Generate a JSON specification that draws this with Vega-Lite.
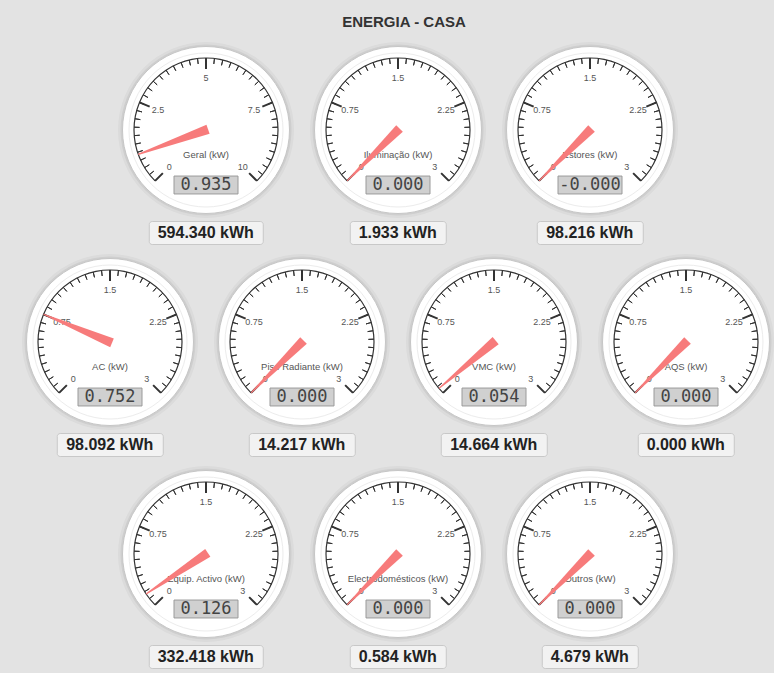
{
"$schema": "https://vega.github.io/schema/vega-lite/v6.json",
"background": "#e3e3e3",
"padding": {"left": 22, "top": 15, "right": 0, "bottom": 4},
"title": {"text": "ENERGIA - CASA", "fontSize": 15, "font": "Liberation Sans", "fontWeight": "bold", "color": "#333333", "anchor": "middle", "offset": 10, "dx": 6},
"config": {"view": {"stroke": null}},
"datasets": {
"gauges": [
{"id": "geral", "label": "Geral (kW)", "max": 10, "value": 0.935, "valueText": "0.935", "kwh": "594.340 kWh"},
{"id": "ilum", "label": "Iluminação (kW)", "max": 3, "value": 0, "valueText": "0.000", "kwh": "1.933 kWh"},
{"id": "estores", "label": "Estores (kW)", "max": 3, "value": 0, "valueText": "-0.000", "kwh": "98.216 kWh"},
{"id": "ac", "label": "AC (kW)", "max": 3, "value": 0.752, "valueText": "0.752", "kwh": "98.092 kWh"},
{"id": "piso", "label": "Piso Radiante (kW)", "max": 3, "value": 0, "valueText": "0.000", "kwh": "14.217 kWh"},
{"id": "vmc", "label": "VMC (kW)", "max": 3, "value": 0.054, "valueText": "0.054", "kwh": "14.664 kWh"},
{"id": "aqs", "label": "AQS (kW)", "max": 3, "value": 0, "valueText": "0.000", "kwh": "0.000 kWh"},
{"id": "equip", "label": "Equip. Activo (kW)", "max": 3, "value": 0.126, "valueText": "0.126", "kwh": "332.418 kWh"},
{"id": "electro", "label": "Electrodomésticos (kW)", "max": 3, "value": 0, "valueText": "0.000", "kwh": "0.584 kWh"},
{"id": "outros", "label": "Outros (kW)", "max": 3, "value": 0, "valueText": "0.000", "kwh": "4.679 kWh"}
],
"ticks": [{"f":0},{"f":0.025},{"f":0.05},{"f":0.075},{"f":0.1},{"f":0.125},{"f":0.15},{"f":0.175},{"f":0.2},{"f":0.225},{"f":0.25},{"f":0.275},{"f":0.3},{"f":0.325},{"f":0.35},{"f":0.375},{"f":0.4},{"f":0.425},{"f":0.45},{"f":0.475},{"f":0.5},{"f":0.525},{"f":0.55},{"f":0.575},{"f":0.6},{"f":0.625},{"f":0.65},{"f":0.675},{"f":0.7},{"f":0.725},{"f":0.75},{"f":0.775},{"f":0.8},{"f":0.825},{"f":0.85},{"f":0.875},{"f":0.9},{"f":0.925},{"f":0.95},{"f":0.975},{"f":1}],
"majors": [{"f":0,"l3":"0","l10":"0"},{"f":0.25,"l3":"0.75","l10":"2.5"},{"f":0.5,"l3":"1.5","l10":"5"},{"f":0.75,"l3":"2.25","l10":"7.5"},{"f":1,"l3":"3","l10":"10"}]
},
"spacing": 7,
"center": true,
"resolve": {"scale": {"angle": "independent", "theta": "independent"}},
"vconcat": [
{"spacing": 16, "resolve": {"scale": {"angle": "independent", "theta": "independent"}}, "hconcat": [
{"data": {"name": "gauges"}, "transform": [{"filter": "datum.id == 'geral'"}], "spacing": 0, "center": true, "vconcat": [
{"width": 176, "height": 180, "layer": [
{"mark": {"type": "arc", "theta": 0, "theta2": 6.2832, "radius": 88, "fill": "#000000", "opacity": 0.035}, "encoding": {}},
{"mark": {"type": "arc", "theta": 0, "theta2": 6.2832, "radius": 85.5, "fill": "#000000", "opacity": 0.06}, "encoding": {}},
{"mark": {"type": "arc", "theta": 0, "theta2": 6.2832, "radius": 83.5, "fill": "#ffffff", "stroke": "#c6c6c6", "strokeWidth": 1}, "encoding": {}},
{"mark": {"type": "arc", "theta": 0, "theta2": 6.2832, "radius": 77, "fill": "#ffffff", "stroke": "#ececec", "strokeWidth": 1}, "encoding": {}},
{"mark": {"type": "arc", "theta": -2.3562, "theta2": 2.3562, "radius": 72.6, "radius2": 71.4, "fill": "#333333"}, "encoding": {}},
{"data": {"name": "ticks"}, "mark": {"type": "arc", "radius": 72, "radius2": 66.5, "filled": false, "stroke": "#333333", "strokeWidth": 1}, "encoding": {"theta": {"field": "f", "type": "quantitative", "stack": null, "scale": {"domain": [0, 1], "range": [-2.3562, 2.3562]}}, "theta2": {"field": "f"}}},
{"data": {"name": "majors"}, "mark": {"type": "arc", "radius": 72, "radius2": 61, "filled": false, "stroke": "#333333", "strokeWidth": 2}, "encoding": {"theta": {"field": "f", "type": "quantitative", "stack": null, "scale": {"domain": [0, 1], "range": [-2.3562, 2.3562]}}, "theta2": {"field": "f"}}},
{"data": {"name": "majors"}, "mark": {"type": "text", "radius": 52, "fontSize": 9, "font": "Liberation Sans", "color": "#555555"}, "encoding": {"theta": {"field": "f", "type": "quantitative", "stack": null, "scale": {"domain": [0, 1], "range": [-2.3562, 2.3562]}}, "text": {"field": "l10"}}},
{"mark": {"type": "text", "dy": 25, "fontSize": 9.5, "font": "Liberation Sans", "color": "#555555"}, "encoding": {"text": {"field": "label"}}},
{"mark": {"type": "point", "shape": "M-1,-0.28H1V0.28H-1Z", "size": 4096, "yOffset": 55, "filled": true, "fill": "#d0d0d0", "stroke": "#9a9a9a", "strokeWidth": 1, "opacity": 1}, "encoding": {}},
{"mark": {"type": "text", "dy": 55, "fontSize": 17, "font": "DejaVu Sans Mono", "color": "#444444"}, "encoding": {"text": {"field": "valueText"}}},
{"mark": {"type": "point", "shape": "M-0.065,0.03L-0.008,-1L0.008,-1L0.065,0.03Z", "size": 20736, "filled": true, "fill": "#f77b7b", "strokeWidth": 0, "opacity": 1}, "encoding": {"angle": {"field": "value", "type": "quantitative", "legend": null, "scale": {"domain": [0, 10], "range": [-135, 135]}}}}
]},
{"width": 114, "height": 23, "view": {"fill": "#f2f2f2", "stroke": "#c8c8c8", "cornerRadius": 3}, "mark": {"type": "text", "fontSize": 16, "fontWeight": "bold", "font": "Liberation Sans", "color": "#222222"}, "encoding": {"text": {"field": "kwh"}}}
]},
{"data": {"name": "gauges"}, "transform": [{"filter": "datum.id == 'ilum'"}], "spacing": 0, "center": true, "vconcat": [
{"width": 176, "height": 180, "layer": [
{"mark": {"type": "arc", "theta": 0, "theta2": 6.2832, "radius": 88, "fill": "#000000", "opacity": 0.035}, "encoding": {}},
{"mark": {"type": "arc", "theta": 0, "theta2": 6.2832, "radius": 85.5, "fill": "#000000", "opacity": 0.06}, "encoding": {}},
{"mark": {"type": "arc", "theta": 0, "theta2": 6.2832, "radius": 83.5, "fill": "#ffffff", "stroke": "#c6c6c6", "strokeWidth": 1}, "encoding": {}},
{"mark": {"type": "arc", "theta": 0, "theta2": 6.2832, "radius": 77, "fill": "#ffffff", "stroke": "#ececec", "strokeWidth": 1}, "encoding": {}},
{"mark": {"type": "arc", "theta": -2.3562, "theta2": 2.3562, "radius": 72.6, "radius2": 71.4, "fill": "#333333"}, "encoding": {}},
{"data": {"name": "ticks"}, "mark": {"type": "arc", "radius": 72, "radius2": 66.5, "filled": false, "stroke": "#333333", "strokeWidth": 1}, "encoding": {"theta": {"field": "f", "type": "quantitative", "stack": null, "scale": {"domain": [0, 1], "range": [-2.3562, 2.3562]}}, "theta2": {"field": "f"}}},
{"data": {"name": "majors"}, "mark": {"type": "arc", "radius": 72, "radius2": 61, "filled": false, "stroke": "#333333", "strokeWidth": 2}, "encoding": {"theta": {"field": "f", "type": "quantitative", "stack": null, "scale": {"domain": [0, 1], "range": [-2.3562, 2.3562]}}, "theta2": {"field": "f"}}},
{"data": {"name": "majors"}, "mark": {"type": "text", "radius": 52, "fontSize": 9, "font": "Liberation Sans", "color": "#555555"}, "encoding": {"theta": {"field": "f", "type": "quantitative", "stack": null, "scale": {"domain": [0, 1], "range": [-2.3562, 2.3562]}}, "text": {"field": "l3"}}},
{"mark": {"type": "text", "dy": 25, "fontSize": 9.5, "font": "Liberation Sans", "color": "#555555"}, "encoding": {"text": {"field": "label"}}},
{"mark": {"type": "point", "shape": "M-1,-0.28H1V0.28H-1Z", "size": 4096, "yOffset": 55, "filled": true, "fill": "#d0d0d0", "stroke": "#9a9a9a", "strokeWidth": 1, "opacity": 1}, "encoding": {}},
{"mark": {"type": "text", "dy": 55, "fontSize": 17, "font": "DejaVu Sans Mono", "color": "#444444"}, "encoding": {"text": {"field": "valueText"}}},
{"mark": {"type": "point", "shape": "M-0.065,0.03L-0.008,-1L0.008,-1L0.065,0.03Z", "size": 20736, "filled": true, "fill": "#f77b7b", "strokeWidth": 0, "opacity": 1}, "encoding": {"angle": {"field": "value", "type": "quantitative", "legend": null, "scale": {"domain": [0, 3], "range": [-135, 135]}}}}
]},
{"width": 96, "height": 23, "view": {"fill": "#f2f2f2", "stroke": "#c8c8c8", "cornerRadius": 3}, "mark": {"type": "text", "fontSize": 16, "fontWeight": "bold", "font": "Liberation Sans", "color": "#222222"}, "encoding": {"text": {"field": "kwh"}}}
]},
{"data": {"name": "gauges"}, "transform": [{"filter": "datum.id == 'estores'"}], "spacing": 0, "center": true, "vconcat": [
{"width": 176, "height": 180, "layer": [
{"mark": {"type": "arc", "theta": 0, "theta2": 6.2832, "radius": 88, "fill": "#000000", "opacity": 0.035}, "encoding": {}},
{"mark": {"type": "arc", "theta": 0, "theta2": 6.2832, "radius": 85.5, "fill": "#000000", "opacity": 0.06}, "encoding": {}},
{"mark": {"type": "arc", "theta": 0, "theta2": 6.2832, "radius": 83.5, "fill": "#ffffff", "stroke": "#c6c6c6", "strokeWidth": 1}, "encoding": {}},
{"mark": {"type": "arc", "theta": 0, "theta2": 6.2832, "radius": 77, "fill": "#ffffff", "stroke": "#ececec", "strokeWidth": 1}, "encoding": {}},
{"mark": {"type": "arc", "theta": -2.3562, "theta2": 2.3562, "radius": 72.6, "radius2": 71.4, "fill": "#333333"}, "encoding": {}},
{"data": {"name": "ticks"}, "mark": {"type": "arc", "radius": 72, "radius2": 66.5, "filled": false, "stroke": "#333333", "strokeWidth": 1}, "encoding": {"theta": {"field": "f", "type": "quantitative", "stack": null, "scale": {"domain": [0, 1], "range": [-2.3562, 2.3562]}}, "theta2": {"field": "f"}}},
{"data": {"name": "majors"}, "mark": {"type": "arc", "radius": 72, "radius2": 61, "filled": false, "stroke": "#333333", "strokeWidth": 2}, "encoding": {"theta": {"field": "f", "type": "quantitative", "stack": null, "scale": {"domain": [0, 1], "range": [-2.3562, 2.3562]}}, "theta2": {"field": "f"}}},
{"data": {"name": "majors"}, "mark": {"type": "text", "radius": 52, "fontSize": 9, "font": "Liberation Sans", "color": "#555555"}, "encoding": {"theta": {"field": "f", "type": "quantitative", "stack": null, "scale": {"domain": [0, 1], "range": [-2.3562, 2.3562]}}, "text": {"field": "l3"}}},
{"mark": {"type": "text", "dy": 25, "fontSize": 9.5, "font": "Liberation Sans", "color": "#555555"}, "encoding": {"text": {"field": "label"}}},
{"mark": {"type": "point", "shape": "M-1,-0.28H1V0.28H-1Z", "size": 4096, "yOffset": 55, "filled": true, "fill": "#d0d0d0", "stroke": "#9a9a9a", "strokeWidth": 1, "opacity": 1}, "encoding": {}},
{"mark": {"type": "text", "dy": 55, "fontSize": 17, "font": "DejaVu Sans Mono", "color": "#444444"}, "encoding": {"text": {"field": "valueText"}}},
{"mark": {"type": "point", "shape": "M-0.065,0.03L-0.008,-1L0.008,-1L0.065,0.03Z", "size": 20736, "filled": true, "fill": "#f77b7b", "strokeWidth": 0, "opacity": 1}, "encoding": {"angle": {"field": "value", "type": "quantitative", "legend": null, "scale": {"domain": [0, 3], "range": [-135, 135]}}}}
]},
{"width": 106, "height": 23, "view": {"fill": "#f2f2f2", "stroke": "#c8c8c8", "cornerRadius": 3}, "mark": {"type": "text", "fontSize": 16, "fontWeight": "bold", "font": "Liberation Sans", "color": "#222222"}, "encoding": {"text": {"field": "kwh"}}}
]}
]},
{"spacing": 16, "resolve": {"scale": {"angle": "independent", "theta": "independent"}}, "hconcat": [
{"data": {"name": "gauges"}, "transform": [{"filter": "datum.id == 'ac'"}], "spacing": 0, "center": true, "vconcat": [
{"width": 176, "height": 180, "layer": [
{"mark": {"type": "arc", "theta": 0, "theta2": 6.2832, "radius": 88, "fill": "#000000", "opacity": 0.035}, "encoding": {}},
{"mark": {"type": "arc", "theta": 0, "theta2": 6.2832, "radius": 85.5, "fill": "#000000", "opacity": 0.06}, "encoding": {}},
{"mark": {"type": "arc", "theta": 0, "theta2": 6.2832, "radius": 83.5, "fill": "#ffffff", "stroke": "#c6c6c6", "strokeWidth": 1}, "encoding": {}},
{"mark": {"type": "arc", "theta": 0, "theta2": 6.2832, "radius": 77, "fill": "#ffffff", "stroke": "#ececec", "strokeWidth": 1}, "encoding": {}},
{"mark": {"type": "arc", "theta": -2.3562, "theta2": 2.3562, "radius": 72.6, "radius2": 71.4, "fill": "#333333"}, "encoding": {}},
{"data": {"name": "ticks"}, "mark": {"type": "arc", "radius": 72, "radius2": 66.5, "filled": false, "stroke": "#333333", "strokeWidth": 1}, "encoding": {"theta": {"field": "f", "type": "quantitative", "stack": null, "scale": {"domain": [0, 1], "range": [-2.3562, 2.3562]}}, "theta2": {"field": "f"}}},
{"data": {"name": "majors"}, "mark": {"type": "arc", "radius": 72, "radius2": 61, "filled": false, "stroke": "#333333", "strokeWidth": 2}, "encoding": {"theta": {"field": "f", "type": "quantitative", "stack": null, "scale": {"domain": [0, 1], "range": [-2.3562, 2.3562]}}, "theta2": {"field": "f"}}},
{"data": {"name": "majors"}, "mark": {"type": "text", "radius": 52, "fontSize": 9, "font": "Liberation Sans", "color": "#555555"}, "encoding": {"theta": {"field": "f", "type": "quantitative", "stack": null, "scale": {"domain": [0, 1], "range": [-2.3562, 2.3562]}}, "text": {"field": "l3"}}},
{"mark": {"type": "text", "dy": 25, "fontSize": 9.5, "font": "Liberation Sans", "color": "#555555"}, "encoding": {"text": {"field": "label"}}},
{"mark": {"type": "point", "shape": "M-1,-0.28H1V0.28H-1Z", "size": 4096, "yOffset": 55, "filled": true, "fill": "#d0d0d0", "stroke": "#9a9a9a", "strokeWidth": 1, "opacity": 1}, "encoding": {}},
{"mark": {"type": "text", "dy": 55, "fontSize": 17, "font": "DejaVu Sans Mono", "color": "#444444"}, "encoding": {"text": {"field": "valueText"}}},
{"mark": {"type": "point", "shape": "M-0.065,0.03L-0.008,-1L0.008,-1L0.065,0.03Z", "size": 20736, "filled": true, "fill": "#f77b7b", "strokeWidth": 0, "opacity": 1}, "encoding": {"angle": {"field": "value", "type": "quantitative", "legend": null, "scale": {"domain": [0, 3], "range": [-135, 135]}}}}
]},
{"width": 106, "height": 23, "view": {"fill": "#f2f2f2", "stroke": "#c8c8c8", "cornerRadius": 3}, "mark": {"type": "text", "fontSize": 16, "fontWeight": "bold", "font": "Liberation Sans", "color": "#222222"}, "encoding": {"text": {"field": "kwh"}}}
]},
{"data": {"name": "gauges"}, "transform": [{"filter": "datum.id == 'piso'"}], "spacing": 0, "center": true, "vconcat": [
{"width": 176, "height": 180, "layer": [
{"mark": {"type": "arc", "theta": 0, "theta2": 6.2832, "radius": 88, "fill": "#000000", "opacity": 0.035}, "encoding": {}},
{"mark": {"type": "arc", "theta": 0, "theta2": 6.2832, "radius": 85.5, "fill": "#000000", "opacity": 0.06}, "encoding": {}},
{"mark": {"type": "arc", "theta": 0, "theta2": 6.2832, "radius": 83.5, "fill": "#ffffff", "stroke": "#c6c6c6", "strokeWidth": 1}, "encoding": {}},
{"mark": {"type": "arc", "theta": 0, "theta2": 6.2832, "radius": 77, "fill": "#ffffff", "stroke": "#ececec", "strokeWidth": 1}, "encoding": {}},
{"mark": {"type": "arc", "theta": -2.3562, "theta2": 2.3562, "radius": 72.6, "radius2": 71.4, "fill": "#333333"}, "encoding": {}},
{"data": {"name": "ticks"}, "mark": {"type": "arc", "radius": 72, "radius2": 66.5, "filled": false, "stroke": "#333333", "strokeWidth": 1}, "encoding": {"theta": {"field": "f", "type": "quantitative", "stack": null, "scale": {"domain": [0, 1], "range": [-2.3562, 2.3562]}}, "theta2": {"field": "f"}}},
{"data": {"name": "majors"}, "mark": {"type": "arc", "radius": 72, "radius2": 61, "filled": false, "stroke": "#333333", "strokeWidth": 2}, "encoding": {"theta": {"field": "f", "type": "quantitative", "stack": null, "scale": {"domain": [0, 1], "range": [-2.3562, 2.3562]}}, "theta2": {"field": "f"}}},
{"data": {"name": "majors"}, "mark": {"type": "text", "radius": 52, "fontSize": 9, "font": "Liberation Sans", "color": "#555555"}, "encoding": {"theta": {"field": "f", "type": "quantitative", "stack": null, "scale": {"domain": [0, 1], "range": [-2.3562, 2.3562]}}, "text": {"field": "l3"}}},
{"mark": {"type": "text", "dy": 25, "fontSize": 9.5, "font": "Liberation Sans", "color": "#555555"}, "encoding": {"text": {"field": "label"}}},
{"mark": {"type": "point", "shape": "M-1,-0.28H1V0.28H-1Z", "size": 4096, "yOffset": 55, "filled": true, "fill": "#d0d0d0", "stroke": "#9a9a9a", "strokeWidth": 1, "opacity": 1}, "encoding": {}},
{"mark": {"type": "text", "dy": 55, "fontSize": 17, "font": "DejaVu Sans Mono", "color": "#444444"}, "encoding": {"text": {"field": "valueText"}}},
{"mark": {"type": "point", "shape": "M-0.065,0.03L-0.008,-1L0.008,-1L0.065,0.03Z", "size": 20736, "filled": true, "fill": "#f77b7b", "strokeWidth": 0, "opacity": 1}, "encoding": {"angle": {"field": "value", "type": "quantitative", "legend": null, "scale": {"domain": [0, 3], "range": [-135, 135]}}}}
]},
{"width": 106, "height": 23, "view": {"fill": "#f2f2f2", "stroke": "#c8c8c8", "cornerRadius": 3}, "mark": {"type": "text", "fontSize": 16, "fontWeight": "bold", "font": "Liberation Sans", "color": "#222222"}, "encoding": {"text": {"field": "kwh"}}}
]},
{"data": {"name": "gauges"}, "transform": [{"filter": "datum.id == 'vmc'"}], "spacing": 0, "center": true, "vconcat": [
{"width": 176, "height": 180, "layer": [
{"mark": {"type": "arc", "theta": 0, "theta2": 6.2832, "radius": 88, "fill": "#000000", "opacity": 0.035}, "encoding": {}},
{"mark": {"type": "arc", "theta": 0, "theta2": 6.2832, "radius": 85.5, "fill": "#000000", "opacity": 0.06}, "encoding": {}},
{"mark": {"type": "arc", "theta": 0, "theta2": 6.2832, "radius": 83.5, "fill": "#ffffff", "stroke": "#c6c6c6", "strokeWidth": 1}, "encoding": {}},
{"mark": {"type": "arc", "theta": 0, "theta2": 6.2832, "radius": 77, "fill": "#ffffff", "stroke": "#ececec", "strokeWidth": 1}, "encoding": {}},
{"mark": {"type": "arc", "theta": -2.3562, "theta2": 2.3562, "radius": 72.6, "radius2": 71.4, "fill": "#333333"}, "encoding": {}},
{"data": {"name": "ticks"}, "mark": {"type": "arc", "radius": 72, "radius2": 66.5, "filled": false, "stroke": "#333333", "strokeWidth": 1}, "encoding": {"theta": {"field": "f", "type": "quantitative", "stack": null, "scale": {"domain": [0, 1], "range": [-2.3562, 2.3562]}}, "theta2": {"field": "f"}}},
{"data": {"name": "majors"}, "mark": {"type": "arc", "radius": 72, "radius2": 61, "filled": false, "stroke": "#333333", "strokeWidth": 2}, "encoding": {"theta": {"field": "f", "type": "quantitative", "stack": null, "scale": {"domain": [0, 1], "range": [-2.3562, 2.3562]}}, "theta2": {"field": "f"}}},
{"data": {"name": "majors"}, "mark": {"type": "text", "radius": 52, "fontSize": 9, "font": "Liberation Sans", "color": "#555555"}, "encoding": {"theta": {"field": "f", "type": "quantitative", "stack": null, "scale": {"domain": [0, 1], "range": [-2.3562, 2.3562]}}, "text": {"field": "l3"}}},
{"mark": {"type": "text", "dy": 25, "fontSize": 9.5, "font": "Liberation Sans", "color": "#555555"}, "encoding": {"text": {"field": "label"}}},
{"mark": {"type": "point", "shape": "M-1,-0.28H1V0.28H-1Z", "size": 4096, "yOffset": 55, "filled": true, "fill": "#d0d0d0", "stroke": "#9a9a9a", "strokeWidth": 1, "opacity": 1}, "encoding": {}},
{"mark": {"type": "text", "dy": 55, "fontSize": 17, "font": "DejaVu Sans Mono", "color": "#444444"}, "encoding": {"text": {"field": "valueText"}}},
{"mark": {"type": "point", "shape": "M-0.065,0.03L-0.008,-1L0.008,-1L0.065,0.03Z", "size": 20736, "filled": true, "fill": "#f77b7b", "strokeWidth": 0, "opacity": 1}, "encoding": {"angle": {"field": "value", "type": "quantitative", "legend": null, "scale": {"domain": [0, 3], "range": [-135, 135]}}}}
]},
{"width": 106, "height": 23, "view": {"fill": "#f2f2f2", "stroke": "#c8c8c8", "cornerRadius": 3}, "mark": {"type": "text", "fontSize": 16, "fontWeight": "bold", "font": "Liberation Sans", "color": "#222222"}, "encoding": {"text": {"field": "kwh"}}}
]},
{"data": {"name": "gauges"}, "transform": [{"filter": "datum.id == 'aqs'"}], "spacing": 0, "center": true, "vconcat": [
{"width": 176, "height": 180, "layer": [
{"mark": {"type": "arc", "theta": 0, "theta2": 6.2832, "radius": 88, "fill": "#000000", "opacity": 0.035}, "encoding": {}},
{"mark": {"type": "arc", "theta": 0, "theta2": 6.2832, "radius": 85.5, "fill": "#000000", "opacity": 0.06}, "encoding": {}},
{"mark": {"type": "arc", "theta": 0, "theta2": 6.2832, "radius": 83.5, "fill": "#ffffff", "stroke": "#c6c6c6", "strokeWidth": 1}, "encoding": {}},
{"mark": {"type": "arc", "theta": 0, "theta2": 6.2832, "radius": 77, "fill": "#ffffff", "stroke": "#ececec", "strokeWidth": 1}, "encoding": {}},
{"mark": {"type": "arc", "theta": -2.3562, "theta2": 2.3562, "radius": 72.6, "radius2": 71.4, "fill": "#333333"}, "encoding": {}},
{"data": {"name": "ticks"}, "mark": {"type": "arc", "radius": 72, "radius2": 66.5, "filled": false, "stroke": "#333333", "strokeWidth": 1}, "encoding": {"theta": {"field": "f", "type": "quantitative", "stack": null, "scale": {"domain": [0, 1], "range": [-2.3562, 2.3562]}}, "theta2": {"field": "f"}}},
{"data": {"name": "majors"}, "mark": {"type": "arc", "radius": 72, "radius2": 61, "filled": false, "stroke": "#333333", "strokeWidth": 2}, "encoding": {"theta": {"field": "f", "type": "quantitative", "stack": null, "scale": {"domain": [0, 1], "range": [-2.3562, 2.3562]}}, "theta2": {"field": "f"}}},
{"data": {"name": "majors"}, "mark": {"type": "text", "radius": 52, "fontSize": 9, "font": "Liberation Sans", "color": "#555555"}, "encoding": {"theta": {"field": "f", "type": "quantitative", "stack": null, "scale": {"domain": [0, 1], "range": [-2.3562, 2.3562]}}, "text": {"field": "l3"}}},
{"mark": {"type": "text", "dy": 25, "fontSize": 9.5, "font": "Liberation Sans", "color": "#555555"}, "encoding": {"text": {"field": "label"}}},
{"mark": {"type": "point", "shape": "M-1,-0.28H1V0.28H-1Z", "size": 4096, "yOffset": 55, "filled": true, "fill": "#d0d0d0", "stroke": "#9a9a9a", "strokeWidth": 1, "opacity": 1}, "encoding": {}},
{"mark": {"type": "text", "dy": 55, "fontSize": 17, "font": "DejaVu Sans Mono", "color": "#444444"}, "encoding": {"text": {"field": "valueText"}}},
{"mark": {"type": "point", "shape": "M-0.065,0.03L-0.008,-1L0.008,-1L0.065,0.03Z", "size": 20736, "filled": true, "fill": "#f77b7b", "strokeWidth": 0, "opacity": 1}, "encoding": {"angle": {"field": "value", "type": "quantitative", "legend": null, "scale": {"domain": [0, 3], "range": [-135, 135]}}}}
]},
{"width": 96, "height": 23, "view": {"fill": "#f2f2f2", "stroke": "#c8c8c8", "cornerRadius": 3}, "mark": {"type": "text", "fontSize": 16, "fontWeight": "bold", "font": "Liberation Sans", "color": "#222222"}, "encoding": {"text": {"field": "kwh"}}}
]}
]},
{"spacing": 16, "resolve": {"scale": {"angle": "independent", "theta": "independent"}}, "hconcat": [
{"data": {"name": "gauges"}, "transform": [{"filter": "datum.id == 'equip'"}], "spacing": 0, "center": true, "vconcat": [
{"width": 176, "height": 180, "layer": [
{"mark": {"type": "arc", "theta": 0, "theta2": 6.2832, "radius": 88, "fill": "#000000", "opacity": 0.035}, "encoding": {}},
{"mark": {"type": "arc", "theta": 0, "theta2": 6.2832, "radius": 85.5, "fill": "#000000", "opacity": 0.06}, "encoding": {}},
{"mark": {"type": "arc", "theta": 0, "theta2": 6.2832, "radius": 83.5, "fill": "#ffffff", "stroke": "#c6c6c6", "strokeWidth": 1}, "encoding": {}},
{"mark": {"type": "arc", "theta": 0, "theta2": 6.2832, "radius": 77, "fill": "#ffffff", "stroke": "#ececec", "strokeWidth": 1}, "encoding": {}},
{"mark": {"type": "arc", "theta": -2.3562, "theta2": 2.3562, "radius": 72.6, "radius2": 71.4, "fill": "#333333"}, "encoding": {}},
{"data": {"name": "ticks"}, "mark": {"type": "arc", "radius": 72, "radius2": 66.5, "filled": false, "stroke": "#333333", "strokeWidth": 1}, "encoding": {"theta": {"field": "f", "type": "quantitative", "stack": null, "scale": {"domain": [0, 1], "range": [-2.3562, 2.3562]}}, "theta2": {"field": "f"}}},
{"data": {"name": "majors"}, "mark": {"type": "arc", "radius": 72, "radius2": 61, "filled": false, "stroke": "#333333", "strokeWidth": 2}, "encoding": {"theta": {"field": "f", "type": "quantitative", "stack": null, "scale": {"domain": [0, 1], "range": [-2.3562, 2.3562]}}, "theta2": {"field": "f"}}},
{"data": {"name": "majors"}, "mark": {"type": "text", "radius": 52, "fontSize": 9, "font": "Liberation Sans", "color": "#555555"}, "encoding": {"theta": {"field": "f", "type": "quantitative", "stack": null, "scale": {"domain": [0, 1], "range": [-2.3562, 2.3562]}}, "text": {"field": "l3"}}},
{"mark": {"type": "text", "dy": 25, "fontSize": 9.5, "font": "Liberation Sans", "color": "#555555"}, "encoding": {"text": {"field": "label"}}},
{"mark": {"type": "point", "shape": "M-1,-0.28H1V0.28H-1Z", "size": 4096, "yOffset": 55, "filled": true, "fill": "#d0d0d0", "stroke": "#9a9a9a", "strokeWidth": 1, "opacity": 1}, "encoding": {}},
{"mark": {"type": "text", "dy": 55, "fontSize": 17, "font": "DejaVu Sans Mono", "color": "#444444"}, "encoding": {"text": {"field": "valueText"}}},
{"mark": {"type": "point", "shape": "M-0.065,0.03L-0.008,-1L0.008,-1L0.065,0.03Z", "size": 20736, "filled": true, "fill": "#f77b7b", "strokeWidth": 0, "opacity": 1}, "encoding": {"angle": {"field": "value", "type": "quantitative", "legend": null, "scale": {"domain": [0, 3], "range": [-135, 135]}}}}
]},
{"width": 114, "height": 23, "view": {"fill": "#f2f2f2", "stroke": "#c8c8c8", "cornerRadius": 3}, "mark": {"type": "text", "fontSize": 16, "fontWeight": "bold", "font": "Liberation Sans", "color": "#222222"}, "encoding": {"text": {"field": "kwh"}}}
]},
{"data": {"name": "gauges"}, "transform": [{"filter": "datum.id == 'electro'"}], "spacing": 0, "center": true, "vconcat": [
{"width": 176, "height": 180, "layer": [
{"mark": {"type": "arc", "theta": 0, "theta2": 6.2832, "radius": 88, "fill": "#000000", "opacity": 0.035}, "encoding": {}},
{"mark": {"type": "arc", "theta": 0, "theta2": 6.2832, "radius": 85.5, "fill": "#000000", "opacity": 0.06}, "encoding": {}},
{"mark": {"type": "arc", "theta": 0, "theta2": 6.2832, "radius": 83.5, "fill": "#ffffff", "stroke": "#c6c6c6", "strokeWidth": 1}, "encoding": {}},
{"mark": {"type": "arc", "theta": 0, "theta2": 6.2832, "radius": 77, "fill": "#ffffff", "stroke": "#ececec", "strokeWidth": 1}, "encoding": {}},
{"mark": {"type": "arc", "theta": -2.3562, "theta2": 2.3562, "radius": 72.6, "radius2": 71.4, "fill": "#333333"}, "encoding": {}},
{"data": {"name": "ticks"}, "mark": {"type": "arc", "radius": 72, "radius2": 66.5, "filled": false, "stroke": "#333333", "strokeWidth": 1}, "encoding": {"theta": {"field": "f", "type": "quantitative", "stack": null, "scale": {"domain": [0, 1], "range": [-2.3562, 2.3562]}}, "theta2": {"field": "f"}}},
{"data": {"name": "majors"}, "mark": {"type": "arc", "radius": 72, "radius2": 61, "filled": false, "stroke": "#333333", "strokeWidth": 2}, "encoding": {"theta": {"field": "f", "type": "quantitative", "stack": null, "scale": {"domain": [0, 1], "range": [-2.3562, 2.3562]}}, "theta2": {"field": "f"}}},
{"data": {"name": "majors"}, "mark": {"type": "text", "radius": 52, "fontSize": 9, "font": "Liberation Sans", "color": "#555555"}, "encoding": {"theta": {"field": "f", "type": "quantitative", "stack": null, "scale": {"domain": [0, 1], "range": [-2.3562, 2.3562]}}, "text": {"field": "l3"}}},
{"mark": {"type": "text", "dy": 25, "fontSize": 9.5, "font": "Liberation Sans", "color": "#555555"}, "encoding": {"text": {"field": "label"}}},
{"mark": {"type": "point", "shape": "M-1,-0.28H1V0.28H-1Z", "size": 4096, "yOffset": 55, "filled": true, "fill": "#d0d0d0", "stroke": "#9a9a9a", "strokeWidth": 1, "opacity": 1}, "encoding": {}},
{"mark": {"type": "text", "dy": 55, "fontSize": 17, "font": "DejaVu Sans Mono", "color": "#444444"}, "encoding": {"text": {"field": "valueText"}}},
{"mark": {"type": "point", "shape": "M-0.065,0.03L-0.008,-1L0.008,-1L0.065,0.03Z", "size": 20736, "filled": true, "fill": "#f77b7b", "strokeWidth": 0, "opacity": 1}, "encoding": {"angle": {"field": "value", "type": "quantitative", "legend": null, "scale": {"domain": [0, 3], "range": [-135, 135]}}}}
]},
{"width": 96, "height": 23, "view": {"fill": "#f2f2f2", "stroke": "#c8c8c8", "cornerRadius": 3}, "mark": {"type": "text", "fontSize": 16, "fontWeight": "bold", "font": "Liberation Sans", "color": "#222222"}, "encoding": {"text": {"field": "kwh"}}}
]},
{"data": {"name": "gauges"}, "transform": [{"filter": "datum.id == 'outros'"}], "spacing": 0, "center": true, "vconcat": [
{"width": 176, "height": 180, "layer": [
{"mark": {"type": "arc", "theta": 0, "theta2": 6.2832, "radius": 88, "fill": "#000000", "opacity": 0.035}, "encoding": {}},
{"mark": {"type": "arc", "theta": 0, "theta2": 6.2832, "radius": 85.5, "fill": "#000000", "opacity": 0.06}, "encoding": {}},
{"mark": {"type": "arc", "theta": 0, "theta2": 6.2832, "radius": 83.5, "fill": "#ffffff", "stroke": "#c6c6c6", "strokeWidth": 1}, "encoding": {}},
{"mark": {"type": "arc", "theta": 0, "theta2": 6.2832, "radius": 77, "fill": "#ffffff", "stroke": "#ececec", "strokeWidth": 1}, "encoding": {}},
{"mark": {"type": "arc", "theta": -2.3562, "theta2": 2.3562, "radius": 72.6, "radius2": 71.4, "fill": "#333333"}, "encoding": {}},
{"data": {"name": "ticks"}, "mark": {"type": "arc", "radius": 72, "radius2": 66.5, "filled": false, "stroke": "#333333", "strokeWidth": 1}, "encoding": {"theta": {"field": "f", "type": "quantitative", "stack": null, "scale": {"domain": [0, 1], "range": [-2.3562, 2.3562]}}, "theta2": {"field": "f"}}},
{"data": {"name": "majors"}, "mark": {"type": "arc", "radius": 72, "radius2": 61, "filled": false, "stroke": "#333333", "strokeWidth": 2}, "encoding": {"theta": {"field": "f", "type": "quantitative", "stack": null, "scale": {"domain": [0, 1], "range": [-2.3562, 2.3562]}}, "theta2": {"field": "f"}}},
{"data": {"name": "majors"}, "mark": {"type": "text", "radius": 52, "fontSize": 9, "font": "Liberation Sans", "color": "#555555"}, "encoding": {"theta": {"field": "f", "type": "quantitative", "stack": null, "scale": {"domain": [0, 1], "range": [-2.3562, 2.3562]}}, "text": {"field": "l3"}}},
{"mark": {"type": "text", "dy": 25, "fontSize": 9.5, "font": "Liberation Sans", "color": "#555555"}, "encoding": {"text": {"field": "label"}}},
{"mark": {"type": "point", "shape": "M-1,-0.28H1V0.28H-1Z", "size": 4096, "yOffset": 55, "filled": true, "fill": "#d0d0d0", "stroke": "#9a9a9a", "strokeWidth": 1, "opacity": 1}, "encoding": {}},
{"mark": {"type": "text", "dy": 55, "fontSize": 17, "font": "DejaVu Sans Mono", "color": "#444444"}, "encoding": {"text": {"field": "valueText"}}},
{"mark": {"type": "point", "shape": "M-0.065,0.03L-0.008,-1L0.008,-1L0.065,0.03Z", "size": 20736, "filled": true, "fill": "#f77b7b", "strokeWidth": 0, "opacity": 1}, "encoding": {"angle": {"field": "value", "type": "quantitative", "legend": null, "scale": {"domain": [0, 3], "range": [-135, 135]}}}}
]},
{"width": 96, "height": 23, "view": {"fill": "#f2f2f2", "stroke": "#c8c8c8", "cornerRadius": 3}, "mark": {"type": "text", "fontSize": 16, "fontWeight": "bold", "font": "Liberation Sans", "color": "#222222"}, "encoding": {"text": {"field": "kwh"}}}
]}
]}
]
}
